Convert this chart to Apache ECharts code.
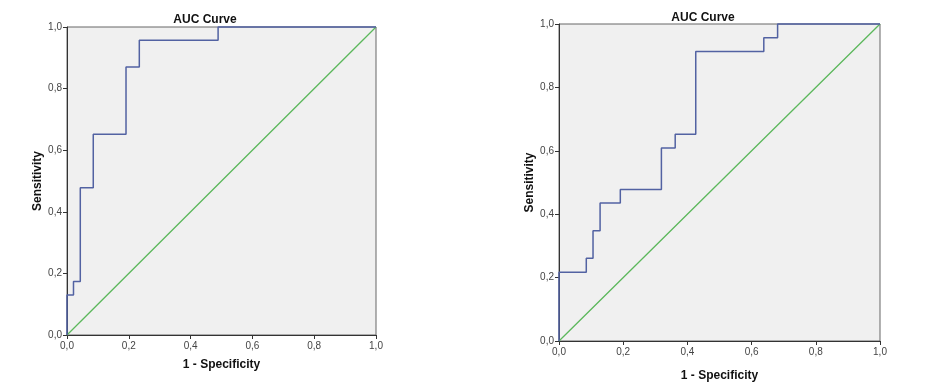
<!DOCTYPE html>
<html>
<head>
<meta charset="utf-8">
<script src="https://cdn.jsdelivr.net/npm/echarts@6/dist/echarts.min.js"></script>
<style>
html,body{margin:0;padding:0;background:#fff;}
#c{width:940px;height:387px;}
</style>
</head>
<body>
<div id="c"></div>
<script>
// Left ROC curve (1 - specificity, sensitivity)
var leftFpr = [0, 0, 0.021, 0.043, 0.085, 0.191, 0.234, 0.489, 1];
var leftTpr = [0, 0.130, 0.174, 0.478, 0.652, 0.870, 0.957, 1, 1];
// Right ROC curve
var rightFpr = [0, 0, 0.085, 0.106, 0.128, 0.191, 0.319, 0.362, 0.426, 0.638, 0.681, 1];
var rightTpr = [0, 0.217, 0.261, 0.348, 0.435, 0.478, 0.609, 0.652, 0.913, 0.957, 1, 1];
// Reference diagonal
var diagX = [0, 0.5, 1];
var diagY = [0, 0.5, 1];
var titleText = 'AUC Curve';
var xName = '1 - Specificity';
var yName = 'Sensitivity';

function pairs(xs, ys){ return xs.map(function(x,i){ return [x, ys[i]]; }); }
function fmt(v){ return v.toFixed(1).replace('.', ','); }

var font = 'Liberation Sans, Arial, sans-serif';
function xAxis(idx, gap){
  return {
    gridIndex: idx, type: 'value', min: 0, max: 1, interval: 0.2,
    name: xName, nameLocation: 'middle', nameGap: gap,
    nameTextStyle: {fontFamily: font, fontWeight: 'bold', fontSize: 12, color: '#111'},
    axisLine: {show: true, lineStyle: {color: '#333', width: 1}},
    axisTick: {show: true, length: 4, lineStyle: {color: '#333'}},
    axisLabel: {formatter: fmt, fontFamily: font, fontSize: 10, color: '#444', margin: 6},
    splitLine: {show: false}
  };
}
function yAxis(idx, gap){
  return {
    gridIndex: idx, type: 'value', min: 0, max: 1, interval: 0.2,
    name: yName, nameLocation: 'middle', nameGap: gap, nameRotate: 90,
    nameTextStyle: {fontFamily: font, fontWeight: 'bold', fontSize: 12, color: '#111'},
    axisLine: {show: true, lineStyle: {color: '#333', width: 1}},
    axisTick: {show: true, length: 4, lineStyle: {color: '#333'}},
    axisLabel: {formatter: fmt, fontFamily: font, fontSize: 10, color: '#444', margin: 5},
    splitLine: {show: false}
  };
}
function gridOpt(l, t, w, h){
  return {left: l, top: t, width: w, height: h, show: true,
    backgroundColor: '#f0f0f0', borderColor: '#666', borderWidth: 1};
}
function curve(idx, xs, ys){
  return {type: 'line', xAxisIndex: idx, yAxisIndex: idx, step: 'end',
    data: pairs(xs, ys), showSymbol: false, symbol: 'none', clip: false,
    itemStyle: {color: '#5262a2'},
    lineStyle: {color: '#5262a2', width: 1.5}, z: 3, animation: false};
}
function diag(idx){
  return {type: 'line', xAxisIndex: idx, yAxisIndex: idx,
    data: pairs(diagX, diagY), showSymbol: false, symbol: 'none', clip: false,
    itemStyle: {color: '#5cb85c'},
    lineStyle: {color: '#5cb85c', width: 1.3, opacity: 1}, z: 2, animation: false};
}

var chart = echarts.init(document.getElementById('c'), null, {renderer: 'canvas'});
chart.setOption({
  animation: false,
  backgroundColor: '#fff',
  title: [
    {text: titleText, left: 200, top: 9, textAlign: 'center',
      textStyle: {fontFamily: font, fontWeight: 'bold', fontSize: 12, color: '#111'}},
    {text: titleText, left: 698, top: 7, textAlign: 'center',
      textStyle: {fontFamily: font, fontWeight: 'bold', fontSize: 12, color: '#111'}}
  ],
  grid: [gridOpt(67, 27, 309, 308), gridOpt(559, 24, 321, 321)],
  xAxis: [xAxis(0, 24), xAxis(1, 29)],
  yAxis: [yAxis(0, 23), yAxis(1, 23)],
  series: [diag(0), curve(0, leftFpr, leftTpr), diag(1), curve(1, rightFpr, rightTpr)]
});
</script>
</body>
</html>
